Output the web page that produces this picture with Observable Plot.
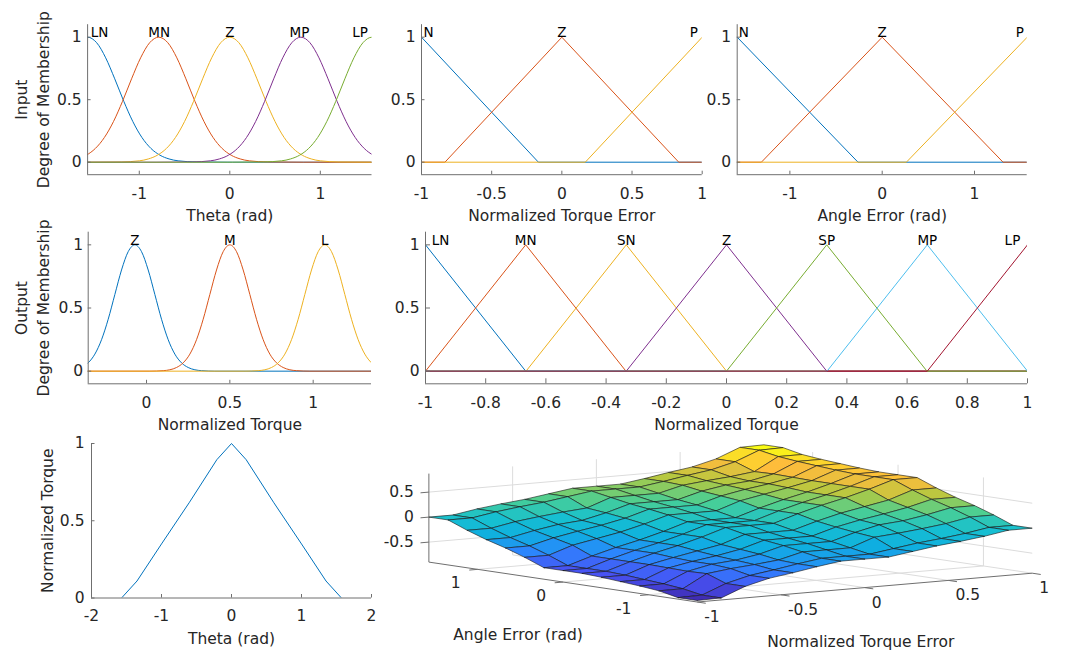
<!DOCTYPE html>
<html><head><meta charset="utf-8">
<script src="https://cdn.jsdelivr.net/npm/d3@7"></script>
<script src="https://cdn.jsdelivr.net/npm/@observablehq/plot@0.6"></script>
<style>
body{margin:0;background:#fff;}
#chart{position:relative;width:1066px;height:652px;overflow:hidden;background:#fff;}
#chart svg{position:absolute;left:0;top:0;}
</style></head><body><div id="chart"></div>
<script>
// ---------------- DATA ----------------
// Input 1: Theta (gaussian MFs)
const thetaMFNames = ["LN", "MN", "Z", "MP", "LP"];
const thetaMFCenters = [-1.571, -0.785, 0, 0.785, 1.571];
const thetaMFLabelX = [-1.44, -0.78, 0, 0.77, 1.44];
const thetaGaussOffsets = [-1.6,-1.2,-1.0,-0.9,-0.8,-0.7,-0.6,-0.5,-0.4,-0.3,-0.2,-0.1,0,0.1,0.2,0.3,0.4,0.5,0.6,0.7,0.8,0.9,1.0,1.2,1.6];
const thetaGaussValues  = [0,0.002,0.011,0.026,0.056,0.110,0.198,0.325,0.487,0.667,0.835,0.956,1,0.956,0.835,0.667,0.487,0.325,0.198,0.110,0.056,0.026,0.011,0.002,0];
const thetaTicks = [-1, 0, 1];

// Input 2: Normalized Torque Error (triangular MFs)
const torqueErrMFNames = ["N", "Z", "P"];
const torqueErrMFx = [[-1, -0.167, 1], [-1, -0.833, 0, 0.833, 1], [-1, 0.167, 1]];
const torqueErrMFy = [[1, 0, 0], [0, 0, 1, 0, 0], [0, 0, 1]];
const torqueErrLabelX = [-0.95, 0, 0.94];
const torqueErrTicks = [-1, -0.5, 0, 0.5, 1];

// Input 3: Angle Error (triangular MFs)
const angleErrMFNames = ["N", "Z", "P"];
const angleErrMFx = [[-1.571, -0.262, 1.571], [-1.571, -1.309, 0, 1.309, 1.571], [-1.571, 0.262, 1.571]];
const angleErrMFy = [[1, 0, 0], [0, 0, 1, 0, 0], [0, 0, 1]];
const angleErrLabelX = [-1.50, 0, 1.49];
const angleErrTicks = [-1, 0, 1];

// Output (gaussian MFs)
const outGaussNames = ["Z", "M", "L"];
const outGaussCenters = [-0.07, 0.5, 1.07];
const outGaussOffsets = [-0.48,-0.4,-0.36,-0.32,-0.28,-0.24,-0.2,-0.16,-0.12,-0.08,-0.04,0,0.04,0.08,0.12,0.16,0.2,0.24,0.28,0.32,0.36,0.4,0.48];
const outGaussValues  = [0,0.004,0.011,0.029,0.066,0.135,0.249,0.411,0.607,0.801,0.946,1,0.946,0.801,0.607,0.411,0.249,0.135,0.066,0.029,0.011,0.004,0];
const outGaussTicks = [0, 0.5, 1];

// Output (triangular MFs)
const outTriNames = ["LN", "MN", "SN", "Z", "SP", "MP", "LP"];
const outTriPeaks = [-1, -0.667, -0.333, 0, 0.333, 0.667, 1];
const outTriHalfWidth = 0.333;
const outTriLabelX = [-0.95, -0.667, -0.333, 0, 0.333, 0.667, 0.95];
const outTriTicks = [-1, -0.8, -0.6, -0.4, -0.2, 0, 0.2, 0.4, 0.6, 0.8, 1];

// Theta -> Normalized torque curve
const curveTheta  = [-1.571, -1.35, -1.0, -0.6, -0.21, 0, 0.21, 0.6, 1.0, 1.35, 1.571];
const curveTorque = [0, 0.11, 0.35, 0.62, 0.895, 1, 0.895, 0.62, 0.35, 0.11, 0];
const curveXTicks = [-2, -1, 0, 1, 2];

const membershipTicks = [0, 0.5, 1];

// Surface: rows = Normalized Torque Error grid, columns = Angle Error grid
const torqueErrGrid = [-1,-0.857,-0.714,-0.571,-0.429,-0.286,-0.143,0,0.143,0.286,0.429,0.571,0.714,0.857,1];
const angleErrGrid = [-1.571,-1.346,-1.122,-0.898,-0.673,-0.449,-0.224,0,0.224,0.449,0.673,0.898,1.122,1.346,1.571];
const surfaceZ = [
 [-0.87,-0.87,-0.79,-0.75,-0.72,-0.69,-0.67,-0.67,-0.67,-0.52,-0.39,-0.28,-0.15,0.00,0.00],
 [-0.86,-0.86,-0.79,-0.75,-0.72,-0.69,-0.67,-0.67,-0.67,-0.52,-0.39,-0.28,-0.15,0.00,0.00],
 [-0.67,-0.67,-0.53,-0.54,-0.53,-0.52,-0.52,-0.52,-0.52,-0.36,-0.27,-0.18,-0.06,0.08,0.08],
 [-0.55,-0.55,-0.47,-0.44,-0.44,-0.42,-0.39,-0.39,-0.39,-0.27,-0.18,-0.10,0.00,0.14,0.14],
 [-0.48,-0.48,-0.43,-0.40,-0.37,-0.33,-0.28,-0.28,-0.28,-0.18,-0.10,-0.06,0.05,0.19,0.19],
 [-0.40,-0.40,-0.38,-0.32,-0.28,-0.24,-0.15,-0.15,-0.15,-0.06,0.00,0.05,0.09,0.26,0.26],
 [-0.33,-0.33,-0.26,-0.19,-0.14,-0.08,0.00,0.00,0.00,0.08,0.14,0.19,0.26,0.33,0.33],
 [-0.33,-0.33,-0.26,-0.19,-0.14,-0.08,0.00,0.00,0.00,0.08,0.14,0.19,0.26,0.33,0.33],
 [-0.33,-0.33,-0.26,-0.19,-0.14,-0.08,0.00,0.00,0.00,0.08,0.14,0.19,0.26,0.33,0.33],
 [-0.26,-0.26,-0.09,-0.05,0.00,0.06,0.15,0.15,0.15,0.24,0.28,0.32,0.38,0.40,0.40],
 [-0.19,-0.19,-0.05,0.06,0.10,0.18,0.28,0.28,0.28,0.33,0.37,0.40,0.43,0.48,0.48],
 [-0.14,-0.14,0.00,0.10,0.18,0.27,0.39,0.39,0.39,0.42,0.44,0.44,0.47,0.55,0.55],
 [-0.08,-0.08,0.06,0.18,0.27,0.36,0.52,0.52,0.52,0.52,0.53,0.54,0.53,0.67,0.67],
 [0.00,0.00,0.15,0.28,0.39,0.52,0.67,0.67,0.67,0.69,0.72,0.75,0.79,0.86,0.86],
 [0.00,0.00,0.15,0.28,0.39,0.52,0.67,0.67,0.67,0.69,0.72,0.75,0.79,0.87,0.87]
];
const surfZLim = [-0.9, 0.87];
const surfZTicks = [-0.5, 0, 0.5];
const surfAngleTicks = [-1, 0, 1];
const surfTorqueTicks = [-1, -0.5, 0, 0.5, 1];

// ---------------- STYLE ----------------
const W = 1066, H = 652;
const FONT = "DejaVu Sans";
const TXT = "#262626", AX = "#6f6f6f";
const mfColors = ["#0072BD", "#D95319", "#EDB120", "#7E2F8E", "#77AC30", "#4DBEEE", "#A2142F"];
const parula = ["#3e26a8", "#4852f4", "#2c86fd", "#0faee1", "#17c0d0", "#4acf94", "#b3c940", "#febc3c", "#f9fb15"];
const TT = {fill: TXT, fontSize: 15.5, fontFamily: FONT};
const LBL = {fill: "#000", fontSize: 13.5, fontFamily: FONT, lineAnchor: "bottom"};
const svgStyle = {background: "transparent", overflow: "visible", fontFamily: FONT, maxWidth: "none"};
const chart = document.getElementById("chart");

function gaussPts(c, offs, vals) {
  return [{x: c - 5, y: 0}, ...offs.map((o, k) => ({x: c + o, y: vals[k]})), {x: c + 5, y: 0}];
}

function panel2D(o) {
  const [fx0, fx1, fy0, fy1] = o.frame;
  const [xd0, xd1] = o.xDomain, [yd0, yd1] = o.yDomain;
  const pxX = (fx1 - fx0) / (xd1 - xd0), pxY = (fy1 - fy0) / (yd1 - yd0);
  const tl = o.tickLen || 3.5;
  const marks = [
    ...o.marks,
    Plot.ruleY([yd0], {x1: xd0, x2: xd1, stroke: AX, strokeWidth: 1}),
    Plot.ruleX([xd0], {y1: yd0, y2: yd1, stroke: AX, strokeWidth: 1}),
    Plot.ruleX(o.xTicks, {x: d => d, y1: yd0, y2: yd0 + tl / pxY, stroke: AX}),
    Plot.ruleY(o.yTicks, {y: d => d, x1: xd0, x2: xd0 + tl / pxX, stroke: AX}),
    Plot.text(o.xTicks, {x: d => d, y: yd0, dy: o.xTickDy || 19, text: d => String(d), ...TT}),
    Plot.text(o.yTicks, {x: xd0, y: d => d, dx: o.yTickDx || -6, textAnchor: "end", text: d => String(d), ...TT}),
    Plot.text([o.xLabel], {frameAnchor: "bottom", lineAnchor: "middle", dy: 41, text: d => d, ...TT}),
    ...(o.yLabels || []).map(([txt, px]) => Plot.text([txt], {frameAnchor: "left", textAnchor: "middle", lineAnchor: "middle", dx: px - fx0, rotate: -90, text: d => d, ...TT}))
  ];
  return Plot.plot({
    width: W, height: H,
    marginLeft: fx0, marginRight: W - fx1, marginTop: fy0, marginBottom: H - fy1,
    x: {domain: o.xDomain, axis: null},
    y: {domain: o.yDomain, axis: null},
    style: svgStyle,
    marks
  });
}

const lineOpts = (k, extra) => ({x: "x", y: "y", stroke: mfColors[k], strokeWidth: 1, clip: true, ...extra});

// Panel A: Theta
chart.appendChild(panel2D({
  frame: [87.1, 371.5, 24.2, 174.2], xDomain: [-1.5708, 1.5708], yDomain: [-0.1, 1.1],
  xTicks: thetaTicks, yTicks: membershipTicks, xLabel: "Theta (rad)",
  yLabels: [["Input", 21.5], ["Degree of Membership", 43.5]],
  marks: [
    ...thetaMFCenters.map((c, k) => Plot.line(gaussPts(c, thetaGaussOffsets, thetaGaussValues), lineOpts(k, {curve: "monotone-x"}))),
    Plot.text(thetaMFNames, {x: (d, i) => thetaMFLabelX[i], y: 1, text: d => d, ...LBL})
  ]
}));

// Panel B: Normalized Torque Error
chart.appendChild(panel2D({
  frame: [421, 701.7, 24.2, 174.2], xDomain: [-1, 1], yDomain: [-0.1, 1.1],
  xTicks: torqueErrTicks, yTicks: membershipTicks, xLabel: "Normalized Torque Error",
  marks: [
    ...torqueErrMFx.map((xs, k) => Plot.line(xs.map((x, m) => ({x, y: torqueErrMFy[k][m]})), lineOpts(k))),
    Plot.text(torqueErrMFNames, {x: (d, i) => torqueErrLabelX[i], y: 1, text: d => d, ...LBL})
  ]
}));

// Panel C: Angle Error
chart.appendChild(panel2D({
  frame: [736.7, 1026.7, 24.2, 174.2], xDomain: [-1.5708, 1.5708], yDomain: [-0.1, 1.1],
  xTicks: angleErrTicks, yTicks: membershipTicks, xLabel: "Angle Error (rad)",
  marks: [
    ...angleErrMFx.map((xs, k) => Plot.line(xs.map((x, m) => ({x, y: angleErrMFy[k][m]})), lineOpts(k))),
    Plot.text(angleErrMFNames, {x: (d, i) => angleErrLabelX[i], y: 1, text: d => d, ...LBL})
  ]
}));

// Panel D: Output gaussians
chart.appendChild(panel2D({
  frame: [87.7, 371, 231.7, 383.3], xDomain: [-0.35, 1.35], yDomain: [-0.1, 1.1],
  xTicks: outGaussTicks, yTicks: membershipTicks, xLabel: "Normalized Torque", yTickDx: -5,
  yLabels: [["Output", 21.5], ["Degree of Membership", 44]],
  marks: [
    ...outGaussCenters.map((c, k) => Plot.line(gaussPts(c, outGaussOffsets, outGaussValues), lineOpts(k, {curve: "monotone-x"}))),
    Plot.text(outGaussNames, {x: (d, i) => outGaussCenters[i], y: 1, text: d => d, ...LBL})
  ]
}));

// Panel E: Output triangles
chart.appendChild(panel2D({
  frame: [425, 1027, 231.7, 383.3], xDomain: [-1, 1], yDomain: [-0.1, 1.1],
  xTicks: outTriTicks, yTicks: membershipTicks, xLabel: "Normalized Torque", tickLen: 5,
  marks: [
    ...outTriPeaks.map((p, k) => Plot.line(
      [{x: -2, y: 0}, {x: p - outTriHalfWidth, y: 0}, {x: p, y: 1}, {x: p + outTriHalfWidth, y: 0}, {x: 2, y: 0}],
      lineOpts(k))),
    Plot.text(outTriNames, {x: (d, i) => outTriLabelX[i], y: 1, text: d => d, ...LBL})
  ]
}));

// Panel F: Theta -> Normalized Torque
chart.appendChild(panel2D({
  frame: [91, 371, 443, 597.5], xDomain: [-2, 2], yDomain: [0, 1],
  xTicks: curveXTicks, yTicks: membershipTicks, xLabel: "Theta (rad)", xTickDy: 18, yTickDx: -7,
  yLabels: [["Normalized Torque", 48]],
  marks: [
    Plot.line(curveTheta.map((x, m) => ({x, y: curveTorque[m]})), lineOpts(0))
  ]
}));

// Panel G: 3D surface (orthographic projection of the data grid)
const VIEW = {ox: 730.05, oy: 522.15, tx: 167.5, ty: -14.4, ax: -85.4, ay: -12.7, zy: -50};
const proj = (t, a, z) => [VIEW.ox + VIEW.tx * t + VIEW.ax * a, VIEW.oy + VIEW.ty * t + VIEW.ay * a + VIEW.zy * z];
const [t0, t1] = [torqueErrGrid[0], torqueErrGrid[torqueErrGrid.length - 1]];
const [a0, a1] = [angleErrGrid[0], angleErrGrid[angleErrGrid.length - 1]];
const [z0, z1] = surfZLim;
const seg = (p, q) => { const [x1, y1] = proj(...p), [x2, y2] = proj(...q); return {x1, y1, x2, y2}; };
const gridSegs = [
  ...surfTorqueTicks.filter(t => t > t0).map(t => seg([t, a1, z0], [t, a1, z1])),
  ...surfZTicks.map(z => seg([t0, a1, z], [t1, a1, z])),
  ...surfAngleTicks.map(a => seg([t1, a, z0], [t1, a, z1])),
  ...surfZTicks.map(z => seg([t1, a0, z], [t1, a1, z])),
  ...surfTorqueTicks.filter(t => t > t0).map(t => seg([t, a0, z0], [t, a1, z0])),
  ...surfAngleTicks.map(a => seg([t0, a, z0], [t1, a, z0]))
];
const axisSegs = [
  seg([t0, a1, z0], [t0, a1, z1]),
  seg([t0, a0, z0], [t0, a1, z0]),
  seg([t0, a0, z0], [t1, a0, z0]),
  ...surfZTicks.map(z => seg([t0, a1, z], [t0 - 0.05, a1, z])),
  ...surfAngleTicks.map(a => seg([t0, a, z0], [t0 - 0.05, a, z0])),
  ...surfTorqueTicks.map(t => seg([t, a0, z0], [t, a0 - 0.1, z0]))
];
const cells = [];
for (let j = 0; j < torqueErrGrid.length - 1; j++) {
  for (let i = 0; i < angleErrGrid.length - 1; i++) {
    const corners = [[j, i], [j + 1, i], [j + 1, i + 1], [j, i + 1], [j, i]];
    const zc = (surfaceZ[j][i] + surfaceZ[j + 1][i] + surfaceZ[j + 1][i + 1] + surfaceZ[j][i + 1]) / 4;
    const tc = (torqueErrGrid[j] + torqueErrGrid[j + 1]) / 2, ac = (angleErrGrid[i] + angleErrGrid[i + 1]) / 2;
    const depth = -(VIEW.ty * tc + VIEW.ay * ac);
    cells.push({id: j * 100 + i, zc, depth, corners});
  }
}
cells.sort((p, q) => q.depth - p.depth);
const cellPts = cells.flatMap(c => c.corners.map(([j, i]) => {
  const [x, y] = proj(torqueErrGrid[j], angleErrGrid[i], surfaceZ[j][i]);
  return {id: c.id, zc: c.zc, x, y};
}));
const linkOpts = {x1: "x1", y1: "y1", x2: "x2", y2: "y2"};
chart.appendChild(Plot.plot({
  width: W, height: H, marginLeft: 0, marginRight: 0, marginTop: 0, marginBottom: 0,
  x: {domain: [0, W], range: [0, W], axis: null},
  y: {domain: [0, H], range: [0, H], axis: null},
  color: {type: "linear", domain: surfZLim, interpolate: d3.piecewise(d3.interpolateRgb, parula)},
  style: svgStyle,
  marks: [
    Plot.link(gridSegs, {...linkOpts, stroke: "#dcdcdc", strokeWidth: 1}),
    Plot.link(axisSegs, {...linkOpts, stroke: AX, strokeWidth: 1}),
    Plot.line(cellPts, {x: "x", y: "y", z: "id", fill: "zc", stroke: "#151515", strokeWidth: 0.6, strokeLinejoin: "round"}),
    Plot.text(surfZTicks, {x: d => proj(t0, a1, d)[0], y: d => proj(t0, a1, d)[1], dx: -15, textAnchor: "end", text: d => String(d), ...TT}),
    Plot.text(surfAngleTicks, {x: d => proj(t0, d, z0)[0], y: d => proj(t0, d, z0)[1], dx: -17, dy: 14, textAnchor: "end", text: d => String(d), ...TT}),
    Plot.text(surfTorqueTicks, {x: d => proj(d, a0, z0)[0], y: d => proj(d, a0, z0)[1], dx: 7, dy: 15, textAnchor: "start", text: d => String(d), ...TT}),
    Plot.text(["Angle Error (rad)"], {x: () => proj(t0, 0, z0)[0], y: () => proj(t0, 0, z0)[1], dx: -45, dy: 53, text: d => d, ...TT}),
    Plot.text(["Normalized Torque Error"], {x: () => proj(0, a0, z0)[0], y: () => proj(0, a0, z0)[1], dx: -4, dy: 54, text: d => d, ...TT})
  ]
}));
</script></body></html>
